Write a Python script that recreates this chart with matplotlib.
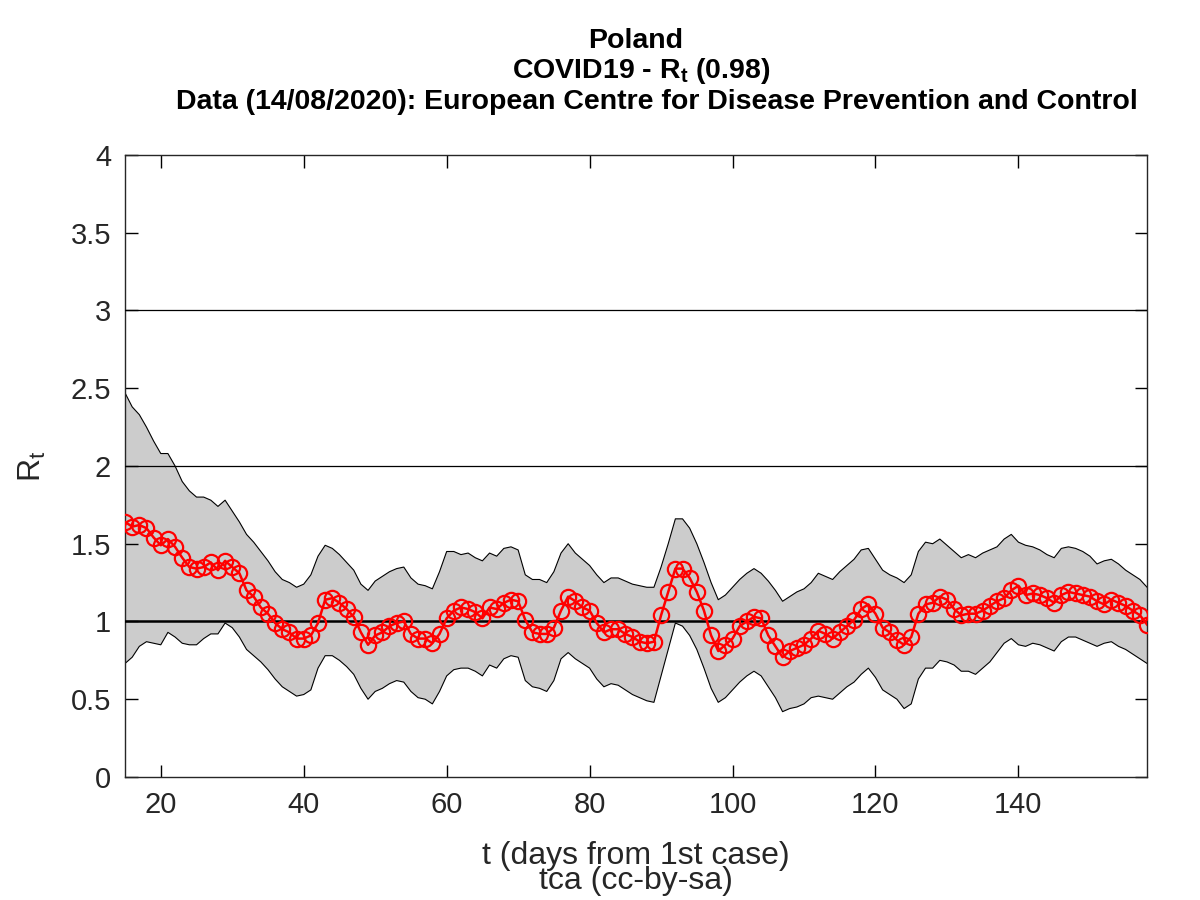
import numpy as np
import matplotlib
matplotlib.use('Agg')
import matplotlib.pyplot as plt

plt.rcParams['font.family'] = ['Liberation Sans', 'DejaVu Sans']
plt.rcParams['mathtext.fontset'] = 'custom'
plt.rcParams['mathtext.rm'] = 'Liberation Sans'
plt.rcParams['mathtext.it'] = 'Liberation Sans'
plt.rcParams['mathtext.bf'] = 'Liberation Sans:bold'

# days from 1st case
days = list(range(15, 159))

# estimated Rt
rt = [1.64, 1.61, 1.62, 1.60, 1.54, 1.49, 1.53, 1.48, 1.41, 1.35,
      1.34, 1.35, 1.38, 1.33, 1.39, 1.35, 1.31, 1.20, 1.16, 1.09,
      1.05, 0.99, 0.95, 0.93, 0.89, 0.89, 0.91, 0.99, 1.14, 1.15,
      1.12, 1.08, 1.03, 0.93, 0.85, 0.91, 0.93, 0.97, 0.99, 1.00,
      0.92, 0.89, 0.89, 0.86, 0.92, 1.02, 1.07, 1.09, 1.08, 1.06,
      1.02, 1.09, 1.08, 1.12, 1.14, 1.13, 1.01, 0.93, 0.92, 0.92,
      0.96, 1.07, 1.16, 1.13, 1.09, 1.07, 0.99, 0.93, 0.95, 0.95,
      0.92, 0.90, 0.87, 0.86, 0.87, 1.04, 1.19, 1.34, 1.34, 1.28,
      1.19, 1.07, 0.91, 0.81, 0.85, 0.89, 0.97, 1.00, 1.03, 1.02,
      0.91, 0.84, 0.77, 0.81, 0.83, 0.85, 0.89, 0.94, 0.92, 0.89,
      0.93, 0.97, 1.01, 1.08, 1.11, 1.05, 0.96, 0.93, 0.88, 0.85,
      0.90, 1.05, 1.11, 1.12, 1.16, 1.14, 1.08, 1.04, 1.05, 1.05,
      1.07, 1.10, 1.13, 1.15, 1.20, 1.23, 1.17, 1.18, 1.17, 1.15,
      1.12, 1.17, 1.19, 1.18, 1.17, 1.16, 1.13, 1.11, 1.14, 1.12,
      1.10, 1.07, 1.04, 0.98]

# upper bound of the band
rt_upper = [2.47, 2.38, 2.33, 2.25, 2.16, 2.08, 2.08, 2.00, 1.90, 1.84,
            1.80, 1.80, 1.78, 1.74, 1.78, 1.71, 1.64, 1.56, 1.51, 1.45,
            1.39, 1.32, 1.27, 1.25, 1.22, 1.24, 1.30, 1.42, 1.49, 1.47,
            1.43, 1.38, 1.33, 1.24, 1.20, 1.26, 1.29, 1.32, 1.34, 1.35,
            1.28, 1.24, 1.23, 1.21, 1.32, 1.45, 1.45, 1.43, 1.44, 1.41,
            1.39, 1.44, 1.42, 1.47, 1.48, 1.46, 1.30, 1.27, 1.27, 1.25,
            1.32, 1.44, 1.50, 1.44, 1.40, 1.36, 1.30, 1.25, 1.28, 1.28,
            1.26, 1.24, 1.23, 1.22, 1.22, 1.35, 1.50, 1.66, 1.66, 1.60,
            1.50, 1.38, 1.25, 1.14, 1.17, 1.22, 1.27, 1.31, 1.34, 1.31,
            1.26, 1.20, 1.13, 1.16, 1.19, 1.21, 1.25, 1.31, 1.29, 1.27,
            1.32, 1.36, 1.40, 1.46, 1.47, 1.40, 1.33, 1.30, 1.28, 1.25,
            1.30, 1.45, 1.51, 1.50, 1.53, 1.49, 1.45, 1.41, 1.43, 1.41,
            1.44, 1.46, 1.48, 1.53, 1.56, 1.51, 1.49, 1.48, 1.46, 1.43,
            1.41, 1.47, 1.48, 1.47, 1.45, 1.42, 1.37, 1.39, 1.40, 1.37,
            1.33, 1.30, 1.27, 1.22]

# lower bound of the band
rt_lower = [0.73, 0.77, 0.84, 0.87, 0.86, 0.85, 0.93, 0.90, 0.86, 0.85,
            0.85, 0.89, 0.92, 0.92, 0.99, 0.96, 0.90, 0.82, 0.78, 0.74,
            0.69, 0.63, 0.58, 0.55, 0.52, 0.53, 0.56, 0.70, 0.78, 0.78,
            0.75, 0.71, 0.66, 0.57, 0.50, 0.55, 0.57, 0.60, 0.62, 0.61,
            0.55, 0.51, 0.50, 0.47, 0.55, 0.65, 0.69, 0.70, 0.70, 0.68,
            0.65, 0.72, 0.70, 0.76, 0.78, 0.77, 0.62, 0.58, 0.57, 0.55,
            0.62, 0.76, 0.80, 0.76, 0.73, 0.70, 0.63, 0.58, 0.60, 0.59,
            0.56, 0.53, 0.51, 0.49, 0.48, 0.65, 0.82, 0.99, 0.97, 0.91,
            0.82, 0.70, 0.57, 0.48, 0.51, 0.56, 0.61, 0.65, 0.68, 0.65,
            0.58, 0.51, 0.42, 0.44, 0.45, 0.47, 0.51, 0.52, 0.51, 0.50,
            0.54, 0.58, 0.61, 0.66, 0.70, 0.64, 0.56, 0.53, 0.50, 0.44,
            0.47, 0.63, 0.70, 0.70, 0.75, 0.74, 0.72, 0.68, 0.68, 0.66,
            0.70, 0.74, 0.80, 0.86, 0.89, 0.85, 0.84, 0.86, 0.85, 0.83,
            0.81, 0.87, 0.90, 0.90, 0.88, 0.86, 0.84, 0.86, 0.87, 0.84,
            0.82, 0.79, 0.76, 0.73]

ref_levels = [1, 2, 3]
x_ticks = [20, 40, 60, 80, 100, 120, 140]
y_ticks = [0, 0.5, 1, 1.5, 2, 2.5, 3, 3.5, 4]
y_ticklabels = ['0', '0.5', '1', '1.5', '2', '2.5', '3', '3.5', '4']

fig = plt.figure(figsize=(12, 9), dpi=100)
ax = fig.add_axes([0.1042, 0.1367, 0.8517, 0.6911])

# confidence band
ax.fill_between(days, rt_lower, rt_upper, facecolor='#cccccc', edgecolor='none', zorder=1)
ax.plot(days, rt_upper, color='black', lw=0.8, zorder=2)
ax.plot(days, rt_lower, color='black', lw=0.8, zorder=2)

# reference lines
for lvl in ref_levels:
    ax.axhline(lvl, color='black', lw=1.8 if lvl == 1 else 0.9, zorder=3)

ax.plot(days, rt, color='red', lw=1.8, marker='o', markersize=11,
        markerfacecolor='none', markeredgecolor='red', markeredgewidth=1.6, zorder=4)

ax.set_xlim(days[0], days[-1])
ax.set_ylim(0, 4)
ax.set_xticks(x_ticks)
ax.set_yticks(y_ticks)
ax.set_yticklabels(y_ticklabels)
ax.tick_params(direction='in', top=True, right=True, length=9, width=1,
               labelsize=21, labelcolor='#262626', pad=10)
for s in ax.spines.values():
    s.set_linewidth(1.0)
    s.set_color('#262626')

ax.set_xlabel('t (days from 1st case)\ntca (cc-by-sa)', fontsize=23, color='#262626',
              linespacing=0.8, labelpad=16)
ax.set_ylabel(r'R$_\mathregular{t}$', fontsize=23, color='#262626', labelpad=16)

# three title lines, placed one by one
fig.text(0.530, 0.955, 'Poland', ha='center', va='center', fontsize=20.5, fontweight='bold')
fig.text(0.534, 0.921, r'COVID19 - R$_\mathbf{t}$ (0.98)', ha='center', va='center',
         fontsize=20.5, fontweight='bold')
fig.text(0.547, 0.887, 'Data (14/08/2020): European Centre for Disease Prevention and Control',
         ha='center', va='center', fontsize=20.5, fontweight='bold')

fig.savefig('out.png', dpi=100)
